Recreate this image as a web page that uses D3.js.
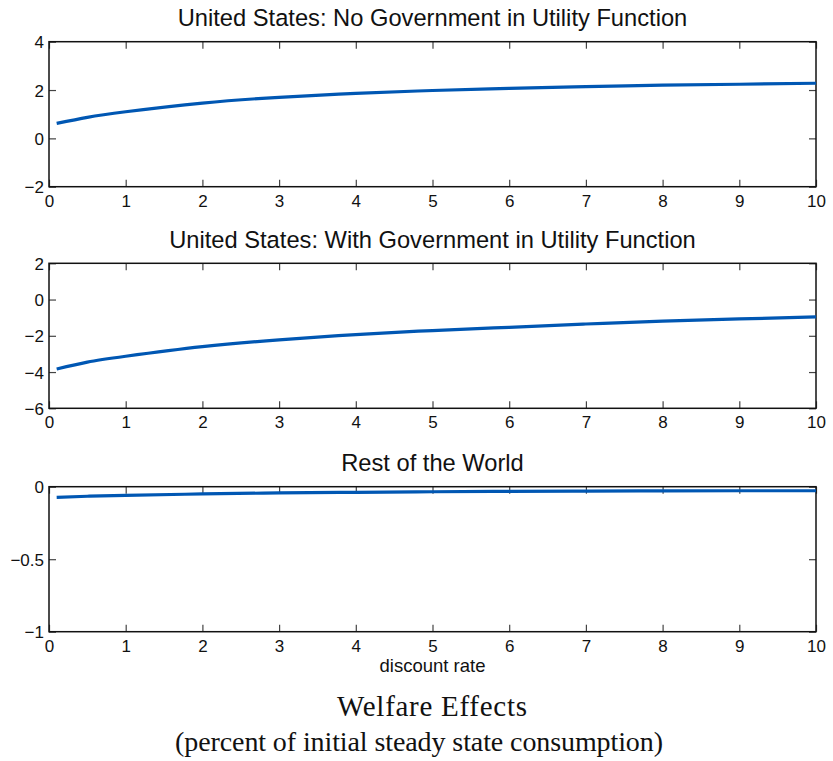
<!DOCTYPE html>
<html>
<head>
<meta charset="utf-8">
<script src="https://cdn.jsdelivr.net/npm/d3@7"></script>
<style>
  html, body { margin: 0; padding: 0; background: #fff; }
  svg { display: block; }
</style>
</head>
<body>
<svg id="chart" width="833" height="761"></svg>
<script>
// Discount rate (percent) on the horizontal axis
const discountRate = [0.1, 0.5, 1, 2, 3, 4, 5, 6, 7, 8, 9, 10];

// Welfare effects, percent of initial steady state consumption
const usNoGov   = [0.62, 0.87, 1.10, 1.46, 1.70, 1.86, 1.98, 2.07, 2.14, 2.20, 2.24, 2.28];
const usWithGov = [-3.83, -3.45, -3.13, -2.60, -2.22, -1.93, -1.71, -1.53, -1.35, -1.19, -1.07, -0.96];
const restWorld = [-0.073, -0.066, -0.060, -0.050, -0.043, -0.039, -0.035, -0.032, -0.030, -0.029, -0.028, -0.028];

const panelTitles = [
  "United States: No Government in Utility Function",
  "United States: With Government in Utility Function",
  "Rest of the World"
];
const yDomains = [[-2, 4], [-6, 2], [-1, 0]];
const yTickValues = [[-2, 0, 2, 4], [-6, -4, -2, 0, 2], [-1, -0.5, 0]];
const xTickValues = [0, 1, 2, 3, 4, 5, 6, 7, 8, 9, 10];
const xLabel = "discount rate";
const captionTitle = "Welfare Effects";
const captionSub = "(percent of initial steady state consumption)";

const series = [usNoGov, usWithGov, restWorld];

const svg = d3.select("#chart");
const left = 49, right = 816;
const panelTops = [41.7, 263.3, 486.7];
const panelHeight = 145;
const sansFont = "'Liberation Sans', Arial, Helvetica, sans-serif";
const fmt = v => (v < 0 ? "\u2212" : "") + Math.abs(v).toString();

const x = d3.scaleLinear().domain([0, 10]).range([left, right]);

series.forEach((vals, i) => {
  const top = panelTops[i], bottom = top + panelHeight;
  const y = d3.scaleLinear().domain(yDomains[i]).range([bottom, top]);
  const g = svg.append("g");

  // Panel title
  g.append("text")
    .attr("x", (left + right) / 2)
    .attr("y", top - 15.5)
    .attr("text-anchor", "middle")
    .attr("font-family", sansFont)
    .attr("font-size", 23.7)
    .attr("fill", "#111")
    .text(panelTitles[i]);

  // Bottom axis with labels, inward ticks
  const xb = g.append("g").attr("transform", `translate(0,${bottom})`)
    .call(d3.axisBottom(x).tickValues(xTickValues).tickSize(-7).tickPadding(8).tickFormat(d => d));
  // Top axis, ticks only
  const xt = g.append("g").attr("transform", `translate(0,${top})`)
    .call(d3.axisTop(x).tickValues(xTickValues).tickSize(-7).tickFormat(""));
  // Left axis with labels
  const yl = g.append("g").attr("transform", `translate(${left},0)`)
    .call(d3.axisLeft(y).tickValues(yTickValues[i]).tickSize(-7).tickPadding(5).tickFormat(fmt));
  // Right axis, ticks only
  const yr = g.append("g").attr("transform", `translate(${right},0)`)
    .call(d3.axisRight(y).tickValues(yTickValues[i]).tickSize(-7).tickFormat(""));

  [xb, xt, yl, yr].forEach(a => {
    a.select(".domain").remove();
    a.selectAll(".tick line").attr("stroke", "#444").attr("stroke-width", 1.2);
    a.selectAll("text").attr("font-family", sansFont).attr("font-size", 17).attr("fill", "#111");
  });
  yl.selectAll("text").attr("dy", "0.36em");

  // Box frame
  g.append("rect")
    .attr("x", left).attr("y", top)
    .attr("width", right - left).attr("height", panelHeight)
    .attr("fill", "none").attr("stroke", "#111").attr("stroke-width", 1.5);

  // Data line
  const line = d3.line()
    .x((d, k) => x(discountRate[k]))
    .y(d => y(d))
    .curve(d3.curveNatural);
  g.append("path")
    .datum(vals)
    .attr("d", line)
    .attr("fill", "none")
    .attr("stroke", "#0057b3")
    .attr("stroke-width", 3.2)
    .attr("stroke-linecap", "butt");
});

// X-axis label under last panel
svg.append("text")
  .attr("x", (left + right) / 2)
  .attr("y", 672)
  .attr("text-anchor", "middle")
  .attr("font-family", sansFont)
  .attr("font-size", 18.5)
  .attr("fill", "#111")
  .text(xLabel);

// Caption
const serifFont = "'Liberation Serif', 'Times New Roman', serif";
svg.append("text")
  .attr("x", 432).attr("y", 716)
  .attr("text-anchor", "middle")
  .attr("font-family", serifFont)
  .attr("font-size", 29)
  .attr("fill", "#111")
  .attr("textLength", 190)
  .attr("lengthAdjust", "spacing")
  .text(captionTitle);
svg.append("text")
  .attr("x", 419).attr("y", 751)
  .attr("text-anchor", "middle")
  .attr("font-family", serifFont)
  .attr("font-size", 28)
  .attr("fill", "#111")
  .attr("textLength", 488)
  .attr("lengthAdjust", "spacing")
  .text(captionSub);
</script>
</body>
</html>
